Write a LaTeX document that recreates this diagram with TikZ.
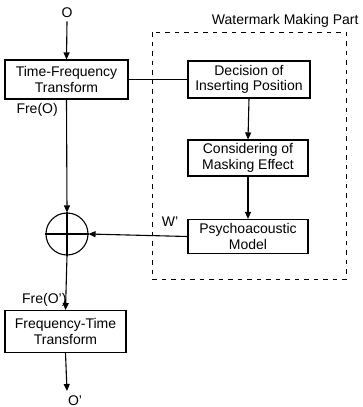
\documentclass[tikz,border=0pt]{standalone}
\usepackage{fontspec}
\setmainfont{Liberation Sans}
\usetikzlibrary{arrows.meta}
\begin{document}
\begin{tikzpicture}[x=1pt,y=-1pt,
  every node/.style={font=\fontsize{14}{15.5}\selectfont},
  blk/.style={draw,line width=1.1pt,minimum height=0pt,inner sep=0pt,align=center},
  arr/.style={line width=1.1pt,-{Triangle[length=7pt,width=6pt]}},
  ln/.style={line width=1.1pt}]
\useasboundingbox (0,0) rectangle (363,407);
% dashed box
\draw[line width=0.9pt,dash pattern=on 4.5pt off 5pt] (152,32) rectangle (346,279);
\node[anchor=base east] (wmp) at (362,24) {Watermark Making Part};
% left chain
\node (o) at (67,13) {O};
\node[blk,minimum width=123pt,minimum height=39pt] (tf) at (66.5,79.5) {Time-Frequency\\Transform};
\node[anchor=west] (freo) at (13,110) {Fre(O)};
\node[draw,circle,line width=1.1pt,minimum size=42pt,inner sep=0pt] (sum) at (67,234) {};
\draw[ln] (sum.north) -- (sum.south);
\draw[ln] (sum.west) -- (sum.east);
\node[anchor=base east] (freo2) at (70,303) {Fre(O')};
\node[blk,minimum width=121pt,minimum height=42pt] (ft) at (65.5,331.5) {Frequency-Time\\Transform};
\coordinate (oend) at (67,391);
\node[anchor=base] (o2) at (75,405) {O'};
% right chain
\node[blk,minimum width=122pt,minimum height=37pt] (dec) at (249,79.5) {Decision of\\Inserting Position};
\node[blk,minimum width=120pt,minimum height=36pt] (con) at (248,158) {Considering of\\Masking Effect};
\node[blk,minimum width=120pt,minimum height=34pt] (psy) at (248,236.5) {Psychoacoustic\\Model};
\node (w) at (170,222) {W'};
% connectors
\draw[arr] (o.south) -- (tf.north);
\draw[ln] (tf.east) -- (dec.west);
\draw[arr] (dec.south) -- (con.north);
\draw[arr] (con.south) -- (psy.north);
\draw[arr] (psy.west) -- (sum.east);
\draw[arr] (tf.south) -- (sum.north);
\draw[arr] (sum.south) -- (ft.north);
\draw[arr] (ft.south) -- (oend);
\end{tikzpicture}
\end{document}
